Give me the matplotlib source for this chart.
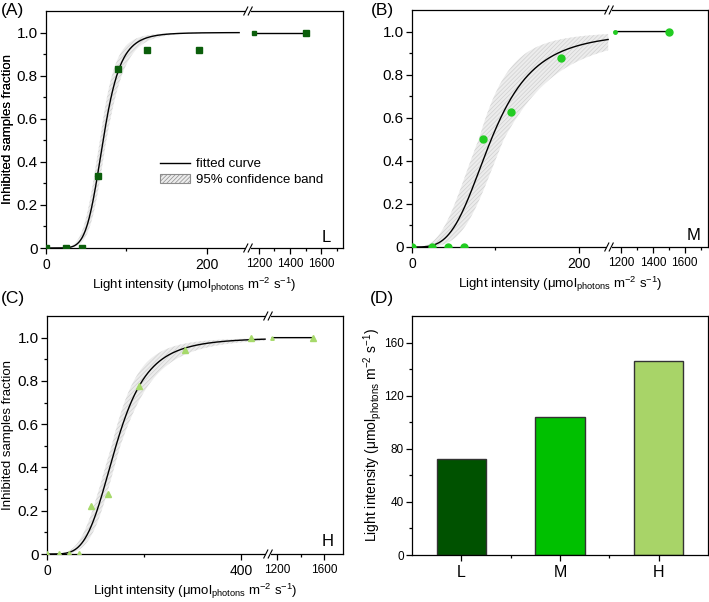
import numpy as np
import matplotlib
matplotlib.use('Agg')
import matplotlib.pyplot as plt
from matplotlib.patches import Patch, Rectangle
from matplotlib.lines import Line2D

plt.rcParams['font.family'] = ['Liberation Sans', 'DejaVu Sans']
plt.rcParams['mathtext.fontset'] = 'custom'
plt.rcParams['mathtext.rm'] = 'Liberation Sans'
plt.rcParams['hatch.linewidth'] = 0.5
plt.rcParams['axes.linewidth'] = 0.9

# measured points: light intensity vs fraction of inhibited samples
light_L = [0, 25, 45, 65, 90, 125, 190, 1500]
frac_L = [0, 0, 0, 0.333, 0.833, 0.917, 0.917, 1.0]
light_M = [0, 24, 43, 62, 85, 119, 179, 1500]
frac_M = [0, 0, 0, 0, 0.5, 0.625, 0.875, 1.0]
light_H = [0, 25, 45, 65, 90, 126, 190, 285, 420, 1500]
frac_H = [0, 0, 0, 0, 0.222, 0.278, 0.778, 0.944, 1.0, 1.0]

# dose-response fit (half point, hill slope) and spread of the 95% band
fit_half = [71, 95, 142]
fit_slope = [6.5, 3.6, 4.3]
ci_half = [4, 15, 9]
ci_slope = [0.4, 0.5, 0.4]
curve_end = [240, 235, 449]
right_start = [1170, 1157, 1160]

# panel D: light intensity giving half inhibition
groups = ['L', 'M', 'H']
half_light = [72, 104, 146]

W, H = 709, 602
fig = plt.figure(figsize=(W / 100, H / 100), dpi=100)


def add_ax(x0, x1, y0, y1):
    return fig.add_axes([x0 / W, 1 - y1 / H, (x1 - x0) / W, (y1 - y0) / H])


def hill(x, k, n):
    x = np.asarray(x, dtype=float)
    return x ** n / (x ** n + k ** n)


def style(ax, ysize=11):
    ax.tick_params(which='both', direction='out', top=False, right=False)
    ax.tick_params(which='major', length=4.5, width=0.9, pad=1.5)
    ax.tick_params(which='minor', length=2.5, width=0.9)
    ax.tick_params(axis='y', labelsize=ysize)


def brk_mark(xp, yp):
    fig.patches.append(Rectangle(((xp - 2.5) / W, 1 - (yp + 1.5) / H), 5 / W, 3 / H,
                                 transform=fig.transFigure, facecolor='white',
                                 edgecolor='none', zorder=10))
    for dx in (-2.2, 2.2):
        c = xp + dx
        fig.lines.append(Line2D([(c - 2) / W, (c + 2) / W], [1 - (yp + 4) / H, 1 - (yp - 4) / H],
                                transform=fig.transFigure, color='black', lw=0.8, zorder=11))


panels = [
    dict(box=(46, 248, 343, 11, 248), xl=(0, 251), xr=(1130, 1740),
         lmaj=[0, 200], lmin=[100], rmaj=[1200, 1400, 1600], rmin=[1300, 1500, 1700],
         x=light_L, y=frac_L, marker='s', ms=4.5, color='#0b5e0b', tag='L', tagpos=(326, 237),
         lab='(A)', labpos=(13, 10)),
    dict(box=(412, 609, 708, 10, 247), xl=(0, 236), xr=(1122, 1747),
         lmaj=[0, 200], lmin=[100], rmaj=[1200, 1400, 1600], rmin=[1300, 1500, 1700],
         x=light_M, y=frac_M, marker='o', ms=5, color='#22cc22', tag='M', tagpos=(694, 235),
         lab='(B)', labpos=(382, 10)),
    dict(box=(47, 268, 343, 316, 554), xl=(0, 455), xr=(1123, 1757),
         lmaj=[0, 400], lmin=[200], rmaj=[1200, 1600], rmin=[1400],
         x=light_H, y=frac_H, marker='^', ms=5, color='#a6d96a', tag='H', tagpos=(328, 542),
         lab='(C)', labpos=(13, 298)),
]

xlabel = 'Light intensity (μmol$_\\mathregular{photons}$ m$^\\mathregular{-2}$ s$^\\mathregular{-1}$)'
band_face = '#ececec'
band_hatch = '#d0d0d0'

for i, p in enumerate(panels):
    x0, xb, x1, y0, y1 = p['box']
    axl = add_ax(x0, xb, y0, y1)
    axr = add_ax(xb, x1, y0, y1)
    k, n = fit_half[i], fit_slope[i]
    dk, dn = ci_half[i], ci_slope[i]

    xs = np.linspace(0.5, curve_end[i], 400)
    combos = np.array([hill(xs, k + a * dk, n + b * dn) for a in (-1, 1) for b in (-1, 1)])
    axl.fill_between(xs, combos.min(axis=0), np.minimum(combos.max(axis=0), 1.0),
                     facecolor=band_face, edgecolor=band_hatch, hatch='////////', linewidth=0)
    axl.plot(xs, hill(xs, k, n), color='black', lw=1.0)

    px = np.array(p['x'], dtype=float)
    py = np.array(p['y'], dtype=float)
    axl.plot(px, py, ls='none', marker=p['marker'], ms=p['ms'], color=p['color'], zorder=5)

    xr = np.linspace(right_start[i], 1500, 50)
    axr.plot(xr, hill(xr, k, n), color='black', lw=1.0)
    axr.plot([right_start[i]], [hill(right_start[i], k, n)], ls='none', marker=p['marker'],
             ms=2.5, color=p['color'], zorder=5)
    axr.plot(px, py, ls='none', marker=p['marker'], ms=p['ms'], color=p['color'], zorder=5)

    for ax in (axl, axr):
        ax.set_ylim(0, 1.1)
        style(ax)
    axl.set_xlim(*p['xl'])
    axr.set_xlim(*p['xr'])
    axl.set_xticks(p['lmaj'])
    axl.set_xticks(p['lmin'], minor=True)
    axr.set_xticks(p['rmaj'])
    axr.set_xticks(p['rmin'], minor=True)
    axl.tick_params(axis='x', labelsize=10, pad=2.5)
    axr.tick_params(axis='x', labelsize=8.5, pad=2.5)
    axl.set_yticks([0, 0.2, 0.4, 0.6, 0.8, 1.0])
    axl.set_yticklabels(['0', '0.2', '0.4', '0.6', '0.8', '1.0'])
    axl.set_yticks([0.1, 0.3, 0.5, 0.7, 0.9], minor=True)
    axl.spines['right'].set_visible(False)
    axr.spines['left'].set_visible(False)
    axr.tick_params(axis='y', which='both', left=False, labelleft=False)
    axr.patch.set_alpha(0)

    brk_mark(xb, y0)
    brk_mark(xb, y1)

    fig.text((x0 + x1) / 2 / W, 1 - (y1 + 37) / H, xlabel, ha='center', va='center', fontsize=9.5)
    fig.text(8 / W, 1 - (y0 + y1) / 2 / H, 'Inhibited samples fraction', rotation=90,
             ha='center', va='center', fontsize=9.5)
    fig.text(p['tagpos'][0] / W, 1 - p['tagpos'][1] / H, p['tag'], ha='center', va='center',
             fontsize=12)
    fig.text(p['labpos'][0] / W, 1 - p['labpos'][1] / H, p['lab'], ha='center', va='center',
             fontsize=12.5)

    if i == 0:
        handles = [Line2D([], [], color='black', lw=1.0),
                   Patch(facecolor=band_face, edgecolor='#8c8c8c', hatch='////////', lw=0.8)]
        axl.legend(handles, ['fitted curve', '95% confidence band'], loc='upper left',
                   bbox_to_anchor=(160 / W, 1 - 158 / H), bbox_transform=fig.transFigure,
                   frameon=False, fontsize=9.5, handlelength=2.3, handletextpad=0.4,
                   labelspacing=0.25, borderpad=0, borderaxespad=0)

# panel D
axd = add_ax(412, 708, 316, 555)
bar_colors = ['#005200', '#00c000', '#a8d468']
axd.bar(np.arange(1, len(groups) + 1), half_light, width=0.5, color=bar_colors,
        edgecolor='#333333', linewidth=1.0)
axd.set_xlim(0.5, 3.5)
axd.set_ylim(0, 180)
axd.set_xticks(np.arange(1, len(groups) + 1))
axd.set_xticklabels(groups)
axd.set_xticks([1.5, 2.5], minor=True)
axd.set_yticks([0, 40, 80, 120, 160])
axd.set_yticks([20, 60, 100, 140], minor=True)
style(axd, ysize=8.5)
axd.tick_params(axis='x', labelsize=11.5, pad=3)
fig.text(373 / W, 1 - 435.5 / H, xlabel, rotation=90, ha='center', va='center', fontsize=10)
fig.text(382 / W, 1 - 298 / H, '(D)', ha='center', va='center', fontsize=12.5)

fig.savefig('out.png', dpi=100)
